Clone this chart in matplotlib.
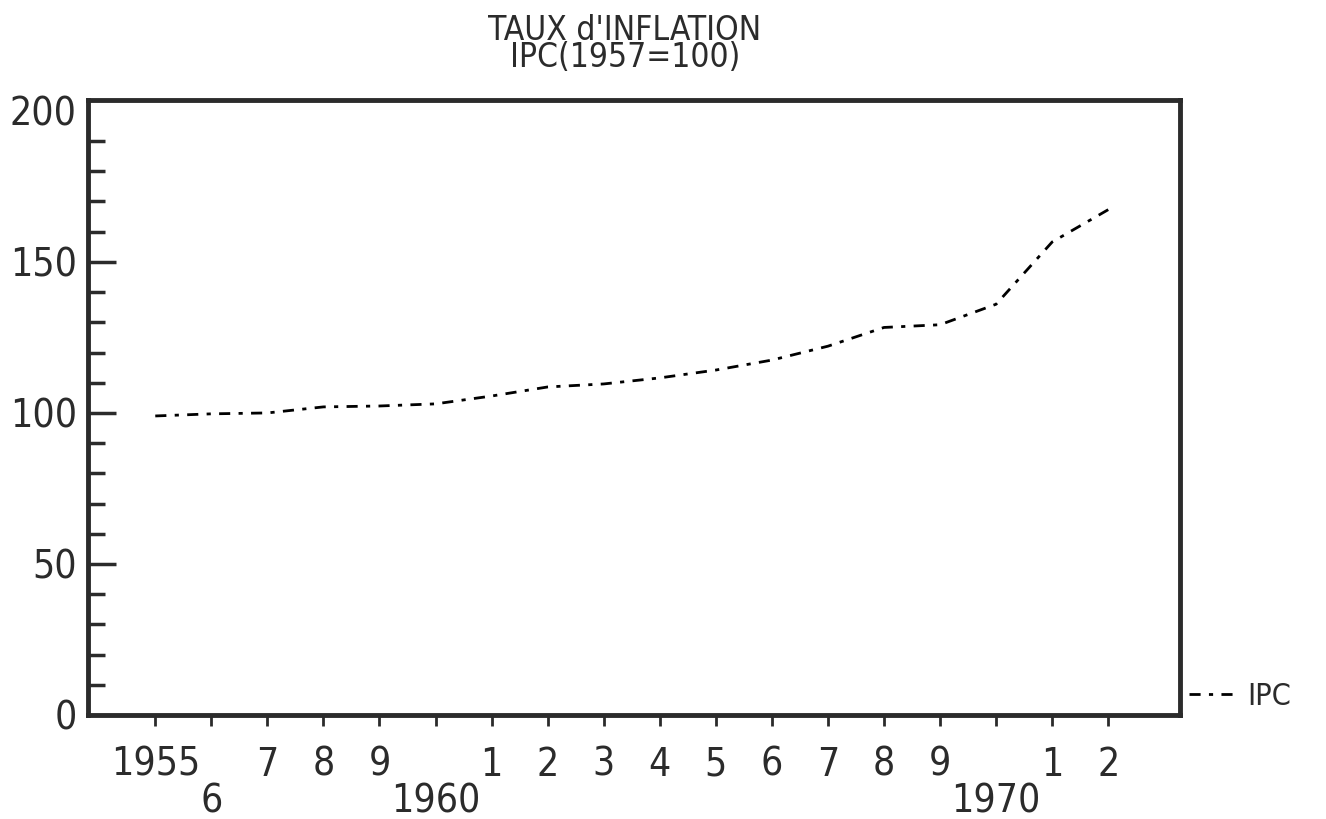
import numpy as np
import matplotlib
matplotlib.use("Agg")
import matplotlib.pyplot as plt
from matplotlib.ticker import MultipleLocator

# IPC (1957=100)
years = [1955, 1956, 1957, 1958, 1959, 1960, 1961, 1962, 1963,
         1964, 1965, 1966, 1967, 1968, 1969, 1970, 1971, 1972]
ipc = [99.0, 99.7, 100.0, 102.0, 102.3, 103.0, 105.6, 108.6, 109.6,
       111.6, 114.2, 117.5, 122.1, 128.3, 129.2, 136.0, 156.6, 167.3]

# x labels alternate between two rows like the original
xlabels = ["1955", "\n6", "7", "8", "9", "\n1960", "1", "2", "3",
           "4", "5", "6", "7", "8", "9", "\n1970", "1", "2"]
yticks = [0, 50, 100, 150, 200]

fam = ["DejaVu Sans"]
ink = "#2b2b2b"

fig = plt.figure(figsize=(13.26, 8.19), dpi=100)
ax = fig.add_axes([88/1326, 1 - 715/819, (1180-88)/1326, (715-100)/819])

ax.plot(years, ipc, color="black", lw=2, linestyle=(0, (4, 3, 1.5, 3)), label="IPC")

ax.set_xlim(1953.8, 1973.28)
ax.set_ylim(0, 203.6)

ax.set_xticks(years)
ax.set_xticklabels(xlabels, family=fam, stretch="condensed", fontsize=28,
                   color=ink, linespacing=0.95)
ax.set_yticks(yticks)
ax.set_yticklabels([str(v) for v in yticks], family=fam, stretch="condensed",
                   fontsize=28, color=ink)
ax.yaxis.set_minor_locator(MultipleLocator(10))

ax.tick_params(axis="x", direction="out", length=8, width=2, color=ink, pad=14)
ax.tick_params(axis="y", which="major", direction="in", length=20, width=2.5, color=ink, pad=8)
ax.tick_params(axis="y", which="minor", direction="in", length=12, width=2.5, color=ink)
# the frame hides the 0 and 200 ticks in the original
for i in (0, -1):
    ax.yaxis.get_major_ticks()[i].tick1line.set_visible(False)

for s in ax.spines.values():
    s.set_linewidth(3.5)
    s.set_color(ink)

fig.text(625/1326, 1 - 44/819, "TAUX d'INFLATION\nIPC(1957=100)", family=fam,
         stretch="condensed", fontsize=24, color=ink, ha="center", va="center",
         linespacing=0.8)

leg = ax.legend(loc="center left", bbox_to_anchor=(1.0, 0.03), frameon=False,
                handlelength=1.6, handletextpad=0.3, borderaxespad=0.1,
                borderpad=0.2, prop={"family": fam, "stretch": "condensed", "size": 22})
for t in leg.get_texts():
    t.set_color(ink)

fig.savefig("out.png", dpi=100)
